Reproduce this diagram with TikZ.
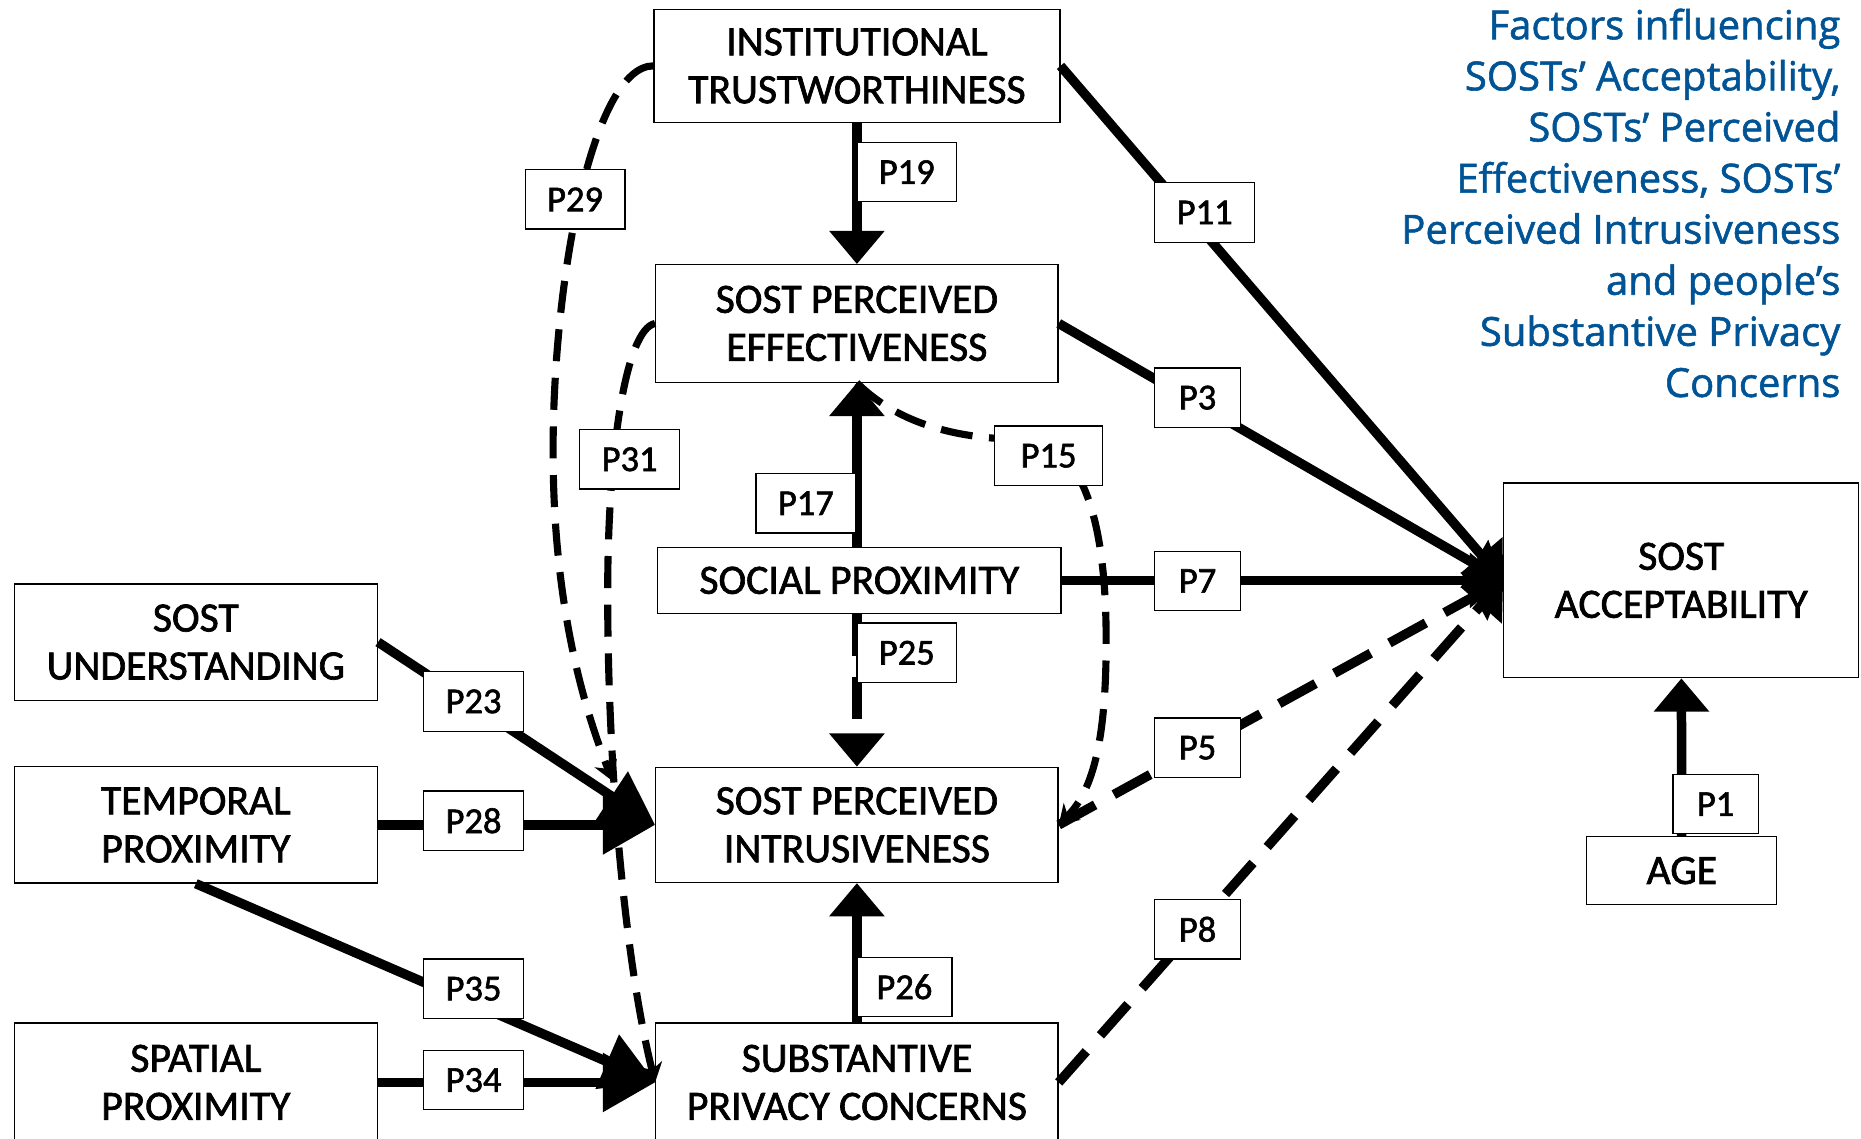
\documentclass[tikz,border=0pt]{standalone}
\usepackage{fontspec}
\setmainfont[FakeBold=1.6]{Carlito}
\newfontfamily\headfont[FakeBold=1.4]{Open Sans}
\usepackage{xcolor}
\usepackage{tikz}
\usetikzlibrary{positioning, arrows.meta, calc}
\definecolor{TitleBlue}{RGB}{0,84,150}

\begin{document}
\begin{tikzpicture}[x=0.2mm, y=-0.2mm,
  factor/.style={draw, line width=0.6pt, align=center, inner sep=0pt, font=\fontsize{20}{23}\selectfont},
  plabel/.style={draw, line width=0.6pt, fill=white, inner sep=0pt, minimum width=16.8mm, minimum height=10mm, font=\fontsize{17.5}{20}\selectfont},
  narrowlbl/.style={minimum width=14.4mm},
  link/.style={line width=1.6mm},
  dlink/.style={line width=1.6mm, dash pattern=on 7mm off 3.6mm},
  dashcurve/.style={line width=1.2mm, dash pattern=on 5.4mm off 2.8mm, -{Stealth[length=3.2mm,width=4mm]}},
  uptip/.style={-{Triangle[length=5.6mm,width=9mm]}},
  sidetip/.style={-{Triangle[length=8.8mm,width=9.6mm]}}]
  \useasboundingbox (0,0) rectangle (1568,959);

  \node[factor, minimum width=68.4mm, minimum height=19mm] (inst) at (722,55.5) {INSTITUTIONAL\\TRUSTWORTHINESS};
  \node[factor, minimum width=67.8mm, minimum height=19.8mm] (eff) at (722,272.5) {SOST PERCEIVED\\EFFECTIVENESS};
  \node[factor, minimum width=68mm, minimum height=11.2mm] (social) at (724,489) {SOCIAL PROXIMITY};
  \node[factor, minimum width=67.8mm, minimum height=19.4mm] (intr) at (722,695) {SOST PERCEIVED\\INTRUSIVENESS};
  \node[factor, minimum width=67.8mm, minimum height=20mm] (subst) at (722,912) {SUBSTANTIVE\\PRIVACY CONCERNS};
  \node[factor, minimum width=61.2mm, minimum height=19.6mm] (underst) at (165,541) {SOST\\UNDERSTANDING};
  \node[factor, minimum width=61.2mm, minimum height=19.6mm] (temporal) at (165,695) {TEMPORAL\\PROXIMITY};
  \node[factor, minimum width=61.2mm, minimum height=20mm] (spatial) at (165,912) {SPATIAL\\PROXIMITY};
  \node[factor, minimum width=59.8mm, minimum height=32.8mm] (accept) at (1416.5,489) {SOST\\ACCEPTABILITY};
  \node[factor, minimum width=32mm, minimum height=11.4mm] (age) at (1417,733.5) {AGE};

  \node[font=\headfont\fontsize{19.2}{24.5}\selectfont, text=TitleBlue, align=right, anchor=east, inner sep=0pt] (heading) at (1551,171)
    {Factors influencing\\SOSTs’ Acceptability,\\SOSTs’ Perceived\\Effectiveness, SOSTs’\\Perceived Intrusiveness\\and people’s\\Substantive Privacy\\Concerns};

  \draw[link, uptip] (inst.south -| eff.north) -- (eff.north);
  \draw[link, uptip] (social.north -| eff.south) -- (eff.south);
  \draw[dlink, uptip] (social.south -| intr.north) -- (intr.north);
  \draw[link, uptip] (subst) -- (intr);
  \draw[link, uptip] (age) -- (accept);
  \draw[link, uptip] (inst.east) -- (accept.west);
  \draw[link, uptip] (eff.east) -- (accept.west);
  \draw[link, uptip] (social.east) -- (accept.west);
  \draw[dlink, uptip] (intr.east) -- (accept.west);
  \draw[dlink, uptip] (subst.east) -- (accept.west);
  \draw[link, sidetip] (underst.east) -- (intr.west);
  \draw[link, sidetip] (temporal.east) -- (intr.west);
  \draw[link, sidetip] (temporal.south) -- (subst.west);
  \draw[link, sidetip] (spatial.east) -- (subst.west);
  \draw[dashcurve] (inst.west) .. controls +(-50,0) and +(0,-150) .. (466,380) .. controls +(0,150) and +(-15,-40) .. ($(intr.north west)+(-36,12)$);
  \draw[dashcurve] (eff.west) .. controls +(-25,5) and +(0,-120) .. (512,500) .. controls +(0,150) and +(-25,-100) .. (subst.west);
  \draw[dashcurve] (eff.south) .. controls +(40,40) and +(-40,0) .. (860,370) .. controls +(60,0) and +(0,-80) .. (932,540) .. controls +(0,80) and +(30,-30) .. (intr.east);

  \node[plabel] (p19) at (764,145) {P19};
  \node[plabel] (p29) at (484.5,168) {P29};
  \node[plabel] (p11) at (1015,179) {P11};
  \node[plabel, narrowlbl] (p3) at (1009,335) {P3};
  \node[plabel] (p31) at (530.5,387) {P31};
  \node[plabel, minimum width=18.2mm] (p15) at (883.5,384) {P15};
  \node[plabel] (p17) at (679,424) {P17};
  \node[plabel, narrowlbl] (p7) at (1009,489.5) {P7};
  \node[plabel] (p25) at (764,550) {P25};
  \node[plabel] (p23) at (399,591) {P23};
  \node[plabel, narrowlbl] (p5) at (1009,630) {P5};
  \node[plabel] (p28) at (399,691.5) {P28};
  \node[plabel, narrowlbl] (p1) at (1445.5,677.5) {P1};
  \node[plabel, narrowlbl] (p8) at (1009,783) {P8};
  \node[plabel] (p35) at (399,833) {P35};
  \node[plabel, minimum width=16mm] (p26) at (762,831.5) {P26};
  \node[plabel] (p34) at (399,910) {P34};
\end{tikzpicture}
\end{document}
